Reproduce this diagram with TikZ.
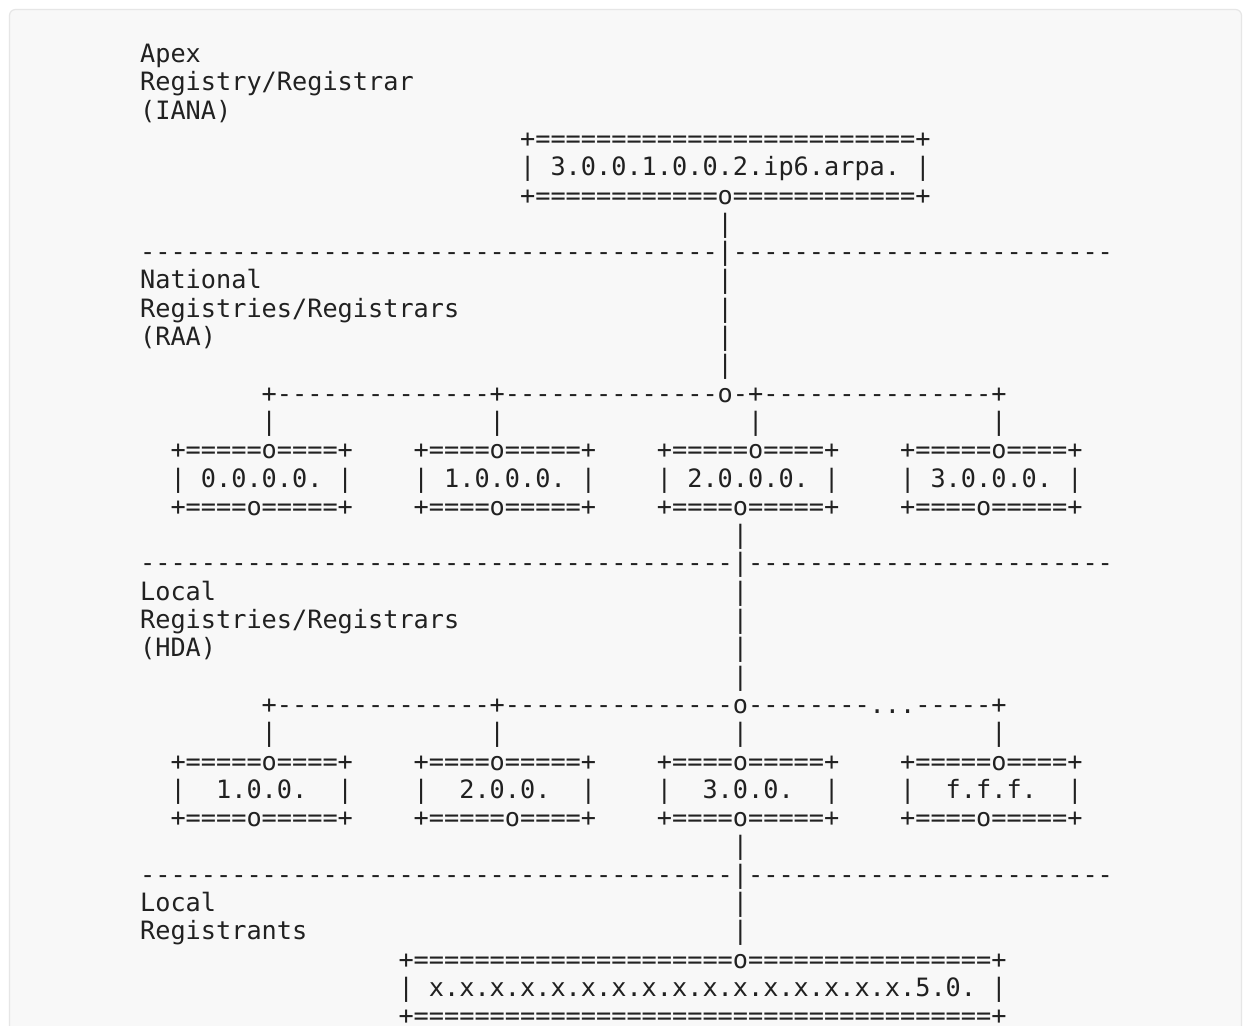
\documentclass[tikz,border=0pt]{standalone}
\usepackage{fontspec}
\setmonofont{DejaVu Sans Mono}
\ExplSyntaxOn
\cs_set_eq:NN \myrep \prg_replicate:nn
\ExplSyntaxOff
\definecolor{tc}{HTML}{212121}
\definecolor{bgc}{HTML}{F8F8F8}
\definecolor{frc}{HTML}{E6E6E6}
\newcommand\seg[4]{\node[txt] (#1) at ({139.9+15.2*#2},{-(62.5+28.3*#3)}) {#4};}
\begin{document}
\begin{tikzpicture}[x=1pt,y=1pt,
  txt/.style={inner sep=0pt,anchor=base west,text=tc,font=\ttfamily\fontsize{25.25pt}{28pt}\selectfont}]
\useasboundingbox (0,0) rectangle (1243,-1026);
\fill[white] (0,0) rectangle (1243,-1026);
\draw[frc,fill=bgc,line width=1.2pt,rounded corners=6pt] (9.5,-9.5) rectangle (1241.5,-1060);
% Apex level
\seg{apex}{0}{0}{Apex}
\seg{apexb}{0}{1}{Registry/Registrar}
\seg{apexc}{0}{2}{(IANA)}
\seg{rootT}{25}{3}{+\myrep{25}{=}+}
\seg{rootM}{25}{4}{| 3.0.0.1.0.0.2.ip6.arpa. |}
\seg{rootB}{25}{5}{+\myrep{12}{=}o\myrep{12}{=}+}
\seg{v6}{38}{6}{|}
\seg{sepA}{0}{7}{\myrep{38}{-}|\myrep{25}{-}}
% National level
\seg{nat}{0}{8}{National}
\seg{v8}{38}{8}{|}
\seg{natb}{0}{9}{Registries/Registrars}
\seg{v9}{38}{9}{|}
\seg{natc}{0}{10}{(RAA)}
\seg{v10}{38}{10}{|}
\seg{v11}{38}{11}{|}
\seg{busA}{8}{12}{+\myrep{14}{-}+\myrep{14}{-}o-+\myrep{15}{-}+}
\seg{dA1}{8}{13}{|}
\seg{dA2}{23}{13}{|}
\seg{dA3}{40}{13}{|}
\seg{dA4}{56}{13}{|}
\seg{raa0T}{2}{14}{+=====o====+}
\seg{raa1T}{18}{14}{+====o=====+}
\seg{raa2T}{34}{14}{+=====o====+}
\seg{raa3T}{50}{14}{+=====o====+}
\seg{raa0M}{2}{15}{| 0.0.0.0. |}
\seg{raa1M}{18}{15}{| 1.0.0.0. |}
\seg{raa2M}{34}{15}{| 2.0.0.0. |}
\seg{raa3M}{50}{15}{| 3.0.0.0. |}
\seg{raa0B}{2}{16}{+====o=====+}
\seg{raa1B}{18}{16}{+====o=====+}
\seg{raa2B}{34}{16}{+====o=====+}
\seg{raa3B}{50}{16}{+====o=====+}
\seg{v17}{39}{17}{|}
\seg{sepB}{0}{18}{\myrep{39}{-}|\myrep{24}{-}}
% Local level
\seg{loc}{0}{19}{Local}
\seg{v19}{39}{19}{|}
\seg{locb}{0}{20}{Registries/Registrars}
\seg{v20}{39}{20}{|}
\seg{locc}{0}{21}{(HDA)}
\seg{v21}{39}{21}{|}
\seg{v22}{39}{22}{|}
\seg{busB}{8}{23}{+\myrep{14}{-}+\myrep{15}{-}o\myrep{8}{-}...\myrep{5}{-}+}
\seg{dB1}{8}{24}{|}
\seg{dB2}{23}{24}{|}
\seg{dB3}{39}{24}{|}
\seg{dB4}{56}{24}{|}
\seg{hda0T}{2}{25}{+=====o====+}
\seg{hda1T}{18}{25}{+====o=====+}
\seg{hda2T}{34}{25}{+====o=====+}
\seg{hda3T}{50}{25}{+=====o====+}
\seg{hda0M}{2}{26}{|~~1.0.0.~~|}
\seg{hda1M}{18}{26}{|~~2.0.0.~~|}
\seg{hda2M}{34}{26}{|~~3.0.0.~~|}
\seg{hda3M}{50}{26}{|~~f.f.f.~~|}
\seg{hda0B}{2}{27}{+====o=====+}
\seg{hda1B}{18}{27}{+=====o====+}
\seg{hda2B}{34}{27}{+====o=====+}
\seg{hda3B}{50}{27}{+====o=====+}
\seg{v28}{39}{28}{|}
\seg{sepC}{0}{29}{\myrep{39}{-}|\myrep{24}{-}}
% Registrants
\seg{reg}{0}{30}{Local}
\seg{v30}{39}{30}{|}
\seg{regb}{0}{31}{Registrants}
\seg{v31}{39}{31}{|}
\seg{leafT}{17}{32}{+\myrep{21}{=}o\myrep{16}{=}+}
\seg{leafM}{17}{33}{| \myrep{16}{x.}5.0. |}
\seg{leafB}{17}{34}{+\myrep{38}{=}+}
\end{tikzpicture}
\end{document}
